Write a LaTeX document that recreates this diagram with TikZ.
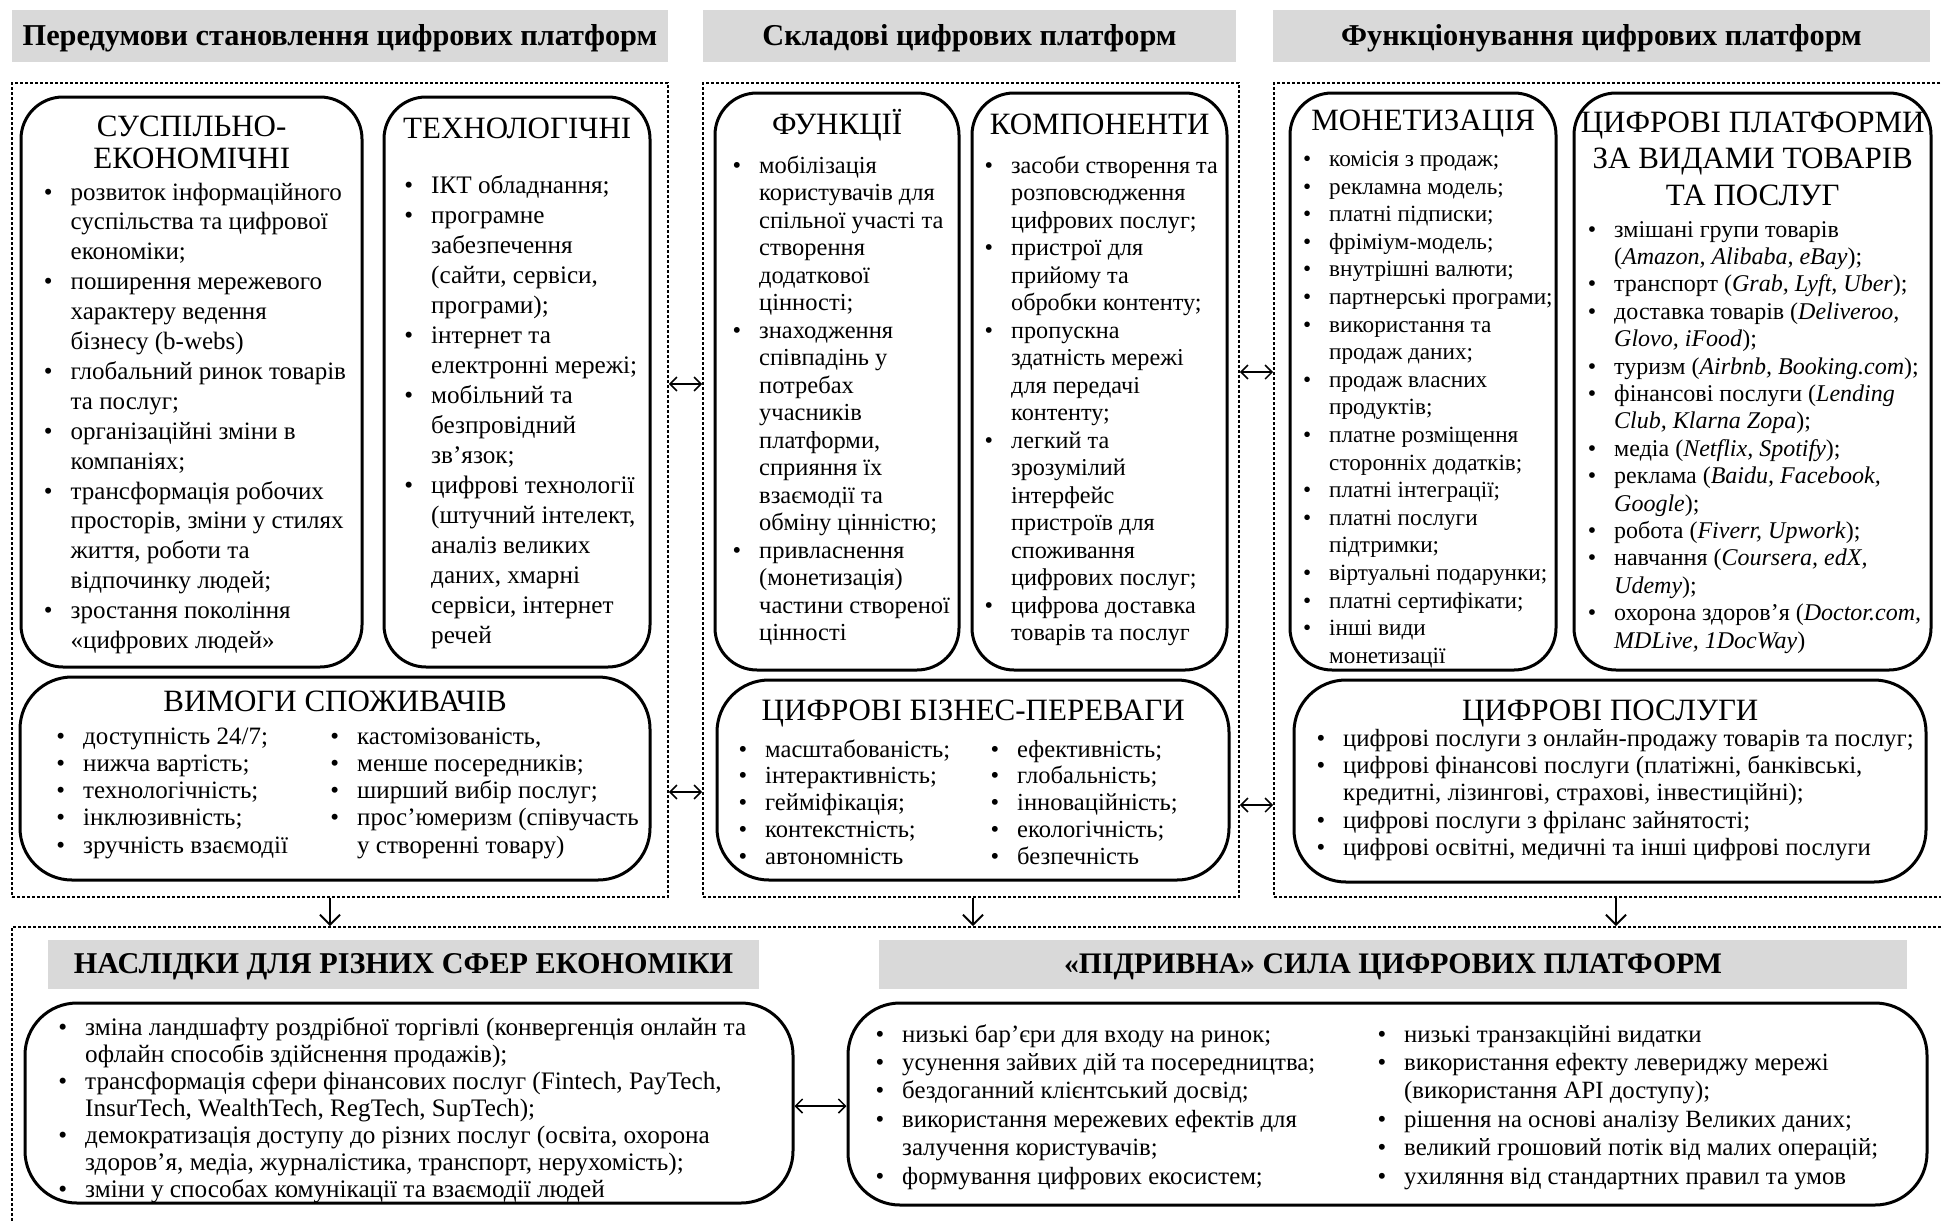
\documentclass[tikz,border=0pt]{standalone}
\usepackage{fontspec}
\setmainfont{Liberation Serif}
\usetikzlibrary{arrows.meta}
\definecolor{hdrgray}{HTML}{D9D9D9}
\newcommand\B{\leavevmode\llap{\textbullet\hskip 18pt}}
\newcommand\blk[4]{\makebox[#1pt][l]{\vtop{\hsize=1500pt\parindent=0pt\fontsize{#2}{#3}\selectfont\lineskiplimit=-100pt\leavevmode#4\par}}}
\newcommand\ctr[4]{\vtop{\hsize=#1pt\parindent=0pt\centering\fontsize{#2}{#3}\selectfont\lineskiplimit=-100pt\leavevmode#4\par}}
\tikzset{
  frame/.style={draw, line width=1.8pt, dash pattern=on 3pt off 2pt, inner sep=0pt},
  hdr/.style={fill=hdrgray, inner sep=0pt, font=\bfseries\fontsize{30.3}{32}\selectfont, text height=21pt, text depth=3pt},
  rbox/.style={draw, line width=3pt, rounded corners=42pt, inner sep=0pt},
  wbox/.style={draw, line width=3pt, rounded corners=52pt, inner sep=0pt},
  txt/.style={anchor=base west, inner sep=0pt},
  dbl/.style={{Straight Barb[length=7pt,width=14pt]}-{Straight Barb[length=7pt,width=14pt]}, line width=1.5pt},
  down/.style={-{Straight Barb[length=10pt,width=20pt]}, line width=2pt}
}
\begin{document}
\begin{tikzpicture}[x=1pt,y=-1pt]
\useasboundingbox (0,0) rectangle (1941,1221);
\clip (0,0) rectangle (1941,1221);
% headers
\node[hdr, minimum width=656pt, minimum height=52pt] (h1) at (340,36) {Передумови становлення цифрових платформ};
\node[hdr, minimum width=533pt, minimum height=52pt] (h2) at (969.5,36) {Складові цифрових платформ};
\node[hdr, minimum width=657pt, minimum height=52pt] (h3) at (1601.5,36) {Функціонування цифрових платформ};
% frames
\node[frame, minimum width=656pt, minimum height=814pt] (d1) at (340,490) {};
\node[frame, minimum width=536pt, minimum height=814pt] (d2) at (971,490) {};
\node[frame, minimum width=676pt, minimum height=814pt] (d3) at (1612,490) {};
\node[frame, minimum width=1938pt, minimum height=313pt] (d4) at (981,1083.5) {};
% boxes column 1
\node[rbox, minimum width=341pt, minimum height=570pt] (bA) at (191.5,382) {};
\node[rbox, minimum width=266pt, minimum height=570pt] (bB) at (517,382) {};
\node[wbox, minimum width=630pt, minimum height=203pt] (bC) at (335,778.5) {};
% column 2
\node[rbox, minimum width=244pt, minimum height=577pt] (bF) at (837,381.5) {};
\node[rbox, minimum width=255pt, minimum height=577pt] (bK) at (1099.5,381.5) {};
\node[wbox, minimum width=512pt, minimum height=200pt] (bBP) at (973,780) {};
% column 3
\node[rbox, minimum width=266pt, minimum height=577pt] (bM) at (1423,381.5) {};
\node[rbox, minimum width=357pt, minimum height=577pt] (bCP) at (1752.5,381.5) {};
\node[wbox, minimum width=632pt, minimum height=202pt] (bCS) at (1610,781) {};
% bottom
\node[hdr, minimum width=711pt, minimum height=49pt, font=\bfseries\fontsize{30.2}{32}\selectfont, text height=20pt, text depth=2pt] (h4) at (403.5,964.5) {НАСЛІДКИ ДЛЯ РІЗНИХ СФЕР ЕКОНОМІКИ};
\node[hdr, minimum width=1028pt, minimum height=49pt, font=\bfseries\fontsize{29.8}{32}\selectfont, text height=20pt, text depth=2pt] (h5) at (1393,964.5) {«ПІДРИВНА» СИЛА ЦИФРОВИХ ПЛАТФОРМ};
\node[wbox, minimum width=768pt, minimum height=200pt] (bN) at (409,1103) {};
\node[wbox, minimum width=1079pt, minimum height=202pt] (bP) at (1387.5,1104) {};

% titles
\node[txt] (tA) at (21,136) {\ctr{341}{31}{32}{СУСПІЛЬНО-\\ЕКОНОМІЧНІ}};
\node[txt] (tB) at (384,138) {\ctr{266}{31}{30}{ТЕХНОЛОГІЧНІ}};
\node[txt] (tC) at (20,711) {\ctr{630}{31}{30}{ВИМОГИ СПОЖИВАЧІВ}};
\node[txt] (tF) at (715,134) {\ctr{244}{31}{30}{ФУНКЦІЇ}};
\node[txt] (tK) at (972,134) {\ctr{255}{31}{30}{КОМПОНЕНТИ}};
\node[txt] (tBP) at (717,720) {\ctr{512}{31}{30}{ЦИФРОВІ БІЗНЕС-ПЕРЕВАГИ}};
\node[txt] (tM) at (1290,130) {\ctr{266}{31}{30}{МОНЕТИЗАЦІЯ}};
\node[txt] (tCP) at (1574,132) {\ctr{357}{31}{36.5}{ЦИФРОВІ ПЛАТФОРМИ\\ЗА ВИДАМИ ТОВАРІВ\\ТА ПОСЛУГ}};
\node[txt] (tCS) at (1294,720) {\ctr{632}{31}{30}{ЦИФРОВІ ПОСЛУГИ}};

% body texts
\node[txt] (xA) at (70.5,200) {\blk{285}{25}{29.9}{\B розвиток інформаційного\\
суспільства та цифрової\\
економіки;\\
\B поширення мережевого\\
характеру ведення\\
бізнесу (b-webs)\\
\B глобальний ринок товарів\\
та послуг;\\
\B організаційні зміни в\\
компаніях;\\
\B трансформація робочих\\
просторів, зміни у стилях\\
життя, роботи та\\
відпочинку людей;\\
\B зростання покоління\\
«цифрових людей»}};
\node[txt] (xB) at (431,193) {\blk{215}{25.2}{30}{\B ІКТ обладнання;\\
\B програмне\\
забезпечення\\
(сайти, сервіси,\\
програми);\\
\B інтернет та\\
електронні мережі;\\
\B мобільний та\\
безпровідний\\
зв’язок;\\
\B цифрові технології\\
(штучний інтелект,\\
аналіз великих\\
даних, хмарні\\
сервіси, інтернет\\
речей}};
\node[txt] (xC1) at (83,744) {\blk{230}{25}{27.3}{\B доступність 24/7;\\
\B нижча вартість;\\
\B технологічність;\\
\B інклюзивність;\\
\B зручність взаємодії}};
\node[txt] (xC2) at (357,744) {\blk{285}{25}{27.3}{\B кастомізованість,\\
\B менше посередників;\\
\B ширший вибір послуг;\\
\B прос’юмеризм (співучасть\\
у створенні товару)}};
\node[txt] (xF) at (759,173) {\blk{195}{24.5}{27.5}{\B мобілізація\\
користувачів для\\
спільної участі та\\
створення\\
додаткової\\
цінності;\\
\B знаходження\\
співпадінь у\\
потребах\\
учасників\\
платформи,\\
сприяння їх\\
взаємодії та\\
обміну цінністю;\\
\B привласнення\\
(монетизація)\\
частини створеної\\
цінності}};
\node[txt] (xK) at (1011,173) {\blk{212}{24.2}{27.5}{\B засоби створення та\\
розповсюдження\\
цифрових послуг;\\
\B пристрої для\\
прийому та\\
обробки контенту;\\
\B пропускна\\
здатність мережі\\
для передачі\\
контенту;\\
\B легкий та\\
зрозумілий\\
інтерфейс\\
пристроїв для\\
споживання\\
цифрових послуг;\\
\B цифрова доставка\\
товарів та послуг}};
\node[txt] (xBP1) at (765,757) {\blk{200}{24.6}{26.9}{\B масштабованість;\\
\B інтерактивність;\\
\B гейміфікація;\\
\B контекстність;\\
\B автономність}};
\node[txt] (xBP2) at (1017,757) {\blk{195}{24.6}{26.9}{\B ефективність;\\
\B глобальність;\\
\B інноваційність;\\
\B екологічність;\\
\B безпечність}};
\node[txt] (xM) at (1329,166.5) {\blk{224}{23.2}{27.6}{\B комісія з продаж;\\
\B рекламна модель;\\
\B платні підписки;\\
\B фріміум-модель;\\
\B внутрішні валюти;\\
\B партнерські програми;\\
\B використання та\\
продаж даних;\\
\B продаж власних\\
продуктів;\\
\B платне розміщення\\
сторонніх додатків;\\
\B платні інтеграції;\\
\B платні послуги\\
підтримки;\\
\B віртуальні подарунки;\\
\B платні сертифікати;\\
\B інші види\\
монетизації}};
\node[txt] (xCP) at (1614,237) {\blk{314}{24}{27.4}{\B змішані групи товарів\\
(\textit{Amazon, Alibaba, eBay});\\
\B транспорт (\textit{Grab, Lyft, Uber});\\
\B доставка товарів (\textit{Deliveroo,}\\
\textit{Glovo, iFood});\\
\B туризм (\textit{Airbnb, Booking.com});\\
\B фінансові послуги (\textit{Lending}\\
\textit{Club, Klarna Zopa});\\
\B медіа (\textit{Netflix, Spotify});\\
\B реклама (\textit{Baidu, Facebook,}\\
\textit{Google});\\
\B робота (\textit{Fiverr, Upwork});\\
\B навчання (\textit{Coursera, edX,}\\
\textit{Udemy});\\
\B охорона здоров’я (\textit{Doctor.com,}\\
\textit{MDLive, 1DocWay})}};
\node[txt] (xCS) at (1343,746) {\blk{580}{24.8}{27.4}{\B цифрові послуги з онлайн-продажу товарів та послуг;\\
\B цифрові фінансові послуги (платіжні, банківські,\\
кредитні, лізингові, страхові, інвестиційні);\\
\B цифрові послуги з фріланс зайнятості;\\
\B цифрові освітні, медичні та інші цифрові послуги}};
\node[txt] (xN) at (85,1035) {\blk{680}{25.2}{27}{\B \makebox[661pt][s]{зміна ландшафту роздрібної торгівлі (конвергенція онлайн та}\\
офлайн способів здійснення продажів);\\
\B трансформація сфери фінансових послуг (Fintech, PayTech,\\
InsurTech, WealthTech, RegTech, SupTech);\\
\B демократизація доступу до різних послуг (освіта, охорона\\
здоров’я, медіа, журналістика, транспорт, нерухомість);\\
\B зміни у способах комунікації та взаємодії людей}};
\node[txt] (xP1) at (902,1042) {\blk{450}{24.8}{28.4}{\B низькі бар’єри для входу на ринок;\\
\B усунення зайвих дій та посередництва;\\
\B бездоганний клієнтський досвід;\\
\B використання мережевих ефектів для\\
залучення користувачів;\\
\B формування цифрових екосистем;}};
\node[txt] (xP2) at (1404,1042) {\blk{500}{24.8}{28.4}{\B низькі транзакційні видатки\\
\B використання ефекту левериджу мережі\\
(використання API доступу);\\
\B рішення на основі аналізу Великих даних;\\
\B великий грошовий потік від малих операцій;\\
\B ухиляння від стандартних правил та умов}};

% connectors
\draw[dbl] ([yshift=106pt]d1.east) -- ([yshift=106pt]d2.west);
\draw[dbl] ([yshift=-302pt]d1.east) -- ([yshift=-302pt]d2.west);
\draw[dbl] ([yshift=118pt]d2.east) -- ([yshift=118pt]d3.west);
\draw[dbl] ([yshift=-315pt]d2.east) -- ([yshift=-315pt]d3.west);
\coordinate (nE) at ([yshift=-3pt]bN.east);
\draw[dbl] (nE) -- (nE -| bP.west);
\coordinate (s1) at ([xshift=-10pt]d1.south);
\coordinate (s2) at ([xshift=2pt]d2.south);
\coordinate (s3) at ([xshift=4pt]d3.south);
\draw[down] (s1) -- (s1 |- d4.north);
\draw[down] (s2) -- (s2 |- d4.north);
\draw[down] (s3) -- (s3 |- d4.north);
\end{tikzpicture}
\end{document}
